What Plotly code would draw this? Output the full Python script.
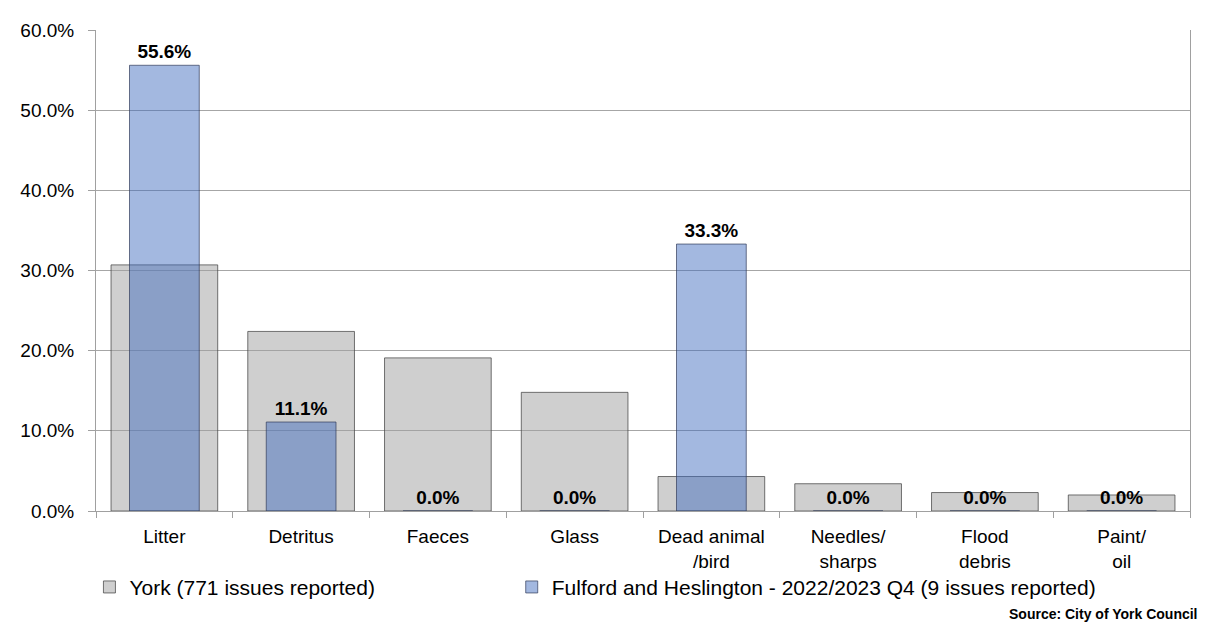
import plotly.graph_objects as go

categories = ["Litter", "Detritus", "Faeces", "Glass", "Dead animal<br>/bird",
              "Needles/<br>sharps", "Flood<br>debris", "Paint/<br>oil"]
york = [30.7, 22.4, 19.1, 14.8, 4.3, 3.4, 2.3, 2.0]
fulford = [55.6, 11.1, 0.0, 0.0, 33.3, 0.0, 0.0, 0.0]
york_name = "York (771 issues reported)"
fulford_name = "Fulford and Heslington - 2022/2023 Q4 (9 issues reported)"
y_ticks = [0, 10, 20, 30, 40, 50, 60]

FONT = "Liberation Sans, Arial, sans-serif"

fig = go.Figure()
fig.add_trace(go.Bar(
    x=categories, y=york, name=york_name, width=0.78, legend="legend",
    marker=dict(color="rgba(160,160,160,0.5)",
                line=dict(color="rgba(70,70,70,0.75)", width=1)),
))
fig.add_trace(go.Bar(
    x=categories, y=fulford, name=fulford_name, width=0.51, legend="legend2",
    marker=dict(color="rgba(63,107,190,0.48)",
                line=dict(color="rgba(50,60,90,0.7)", width=1)),
    text=[f"{v:.1f}%" for v in fulford], textposition="outside",
    textfont=dict(family=FONT, size=19, color="black", weight="bold"),
    cliponaxis=False,
))

legend_common = dict(orientation="h", y=-0.116, xanchor="left", yanchor="top",
                     font=dict(family=FONT, size=21), itemwidth=30,
                     bgcolor="rgba(0,0,0,0)")

fig.update_layout(
    width=1202, height=617,
    barmode="overlay",
    plot_bgcolor="white", paper_bgcolor="white",
    margin=dict(l=81, r=20, t=16, b=114),
    font=dict(family=FONT, size=19, color="black"),
    showlegend=True,
    legend=dict(x=-0.006, **legend_common),
    legend2=dict(x=0.380, **legend_common),
    annotations=[dict(text="<b>Source: City of York Council</b>", xref="paper", yref="paper",
                      x=1.009, y=-0.2136, xanchor="right", yanchor="middle", showarrow=False,
                      font=dict(family=FONT, size=14, color="black"))],
)
fig.update_yaxes(range=[0, 60], tickvals=y_ticks, ticktext=[f"{v:.1f}%" for v in y_ticks],
                 showgrid=True, gridcolor="#a6a6a6", gridwidth=1,
                 showline=True, linecolor="#a0a0a0", mirror=True,
                 ticks="outside", ticklen=7, tickcolor="#a0a0a0",
                 ticklabelstandoff=10,
                 tickfont=dict(family=FONT, size=19), zeroline=False)
fig.update_xaxes(showline=True, linecolor="#a0a0a0", ticks="outside", ticklen=6,
                 tickcolor="#a0a0a0", tickson="boundaries", ticklabelstandoff=8,
                 tickfont=dict(family=FONT, size=19))

fig.write_html("out.html")
